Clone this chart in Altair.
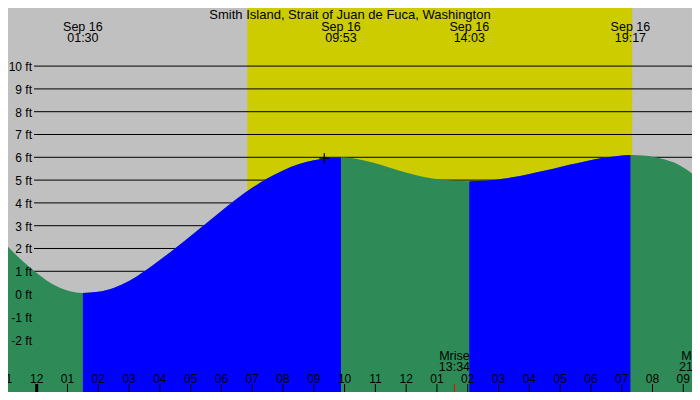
import altair as alt
import pandas as pd

W, H = 684, 384

title_text = "Smith Island, Strait of Juan de Fuca, Washington"

# tide curve (hours after midnight Sep 16, feet)
curve_hours = [-1.19, -0.9, -0.6, -0.3, 0.0, 0.3, 0.6, 0.9, 1.2, 1.5,
               2.0, 2.5, 3.0, 3.5, 4.0, 4.5, 5.0, 5.5, 6.0, 6.5, 7.0, 7.5,
               8.0, 8.5, 9.0, 9.5, 9.883,
               10.4, 10.94, 11.5, 12.02, 12.5, 13.1, 13.6, 14.05,
               14.6, 15.2, 15.7, 16.25, 16.78, 17.3, 17.87, 18.4, 18.95, 19.283,
               19.8, 20.3, 20.7, 21.0, 21.3, 21.55]
curve_ft = [2.42, 2.03, 1.63, 1.26, 0.92, 0.62, 0.38, 0.2, 0.09, 0.05,
            0.10, 0.27, 0.57, 1.00, 1.49, 2.01, 2.55, 3.10, 3.65, 4.18, 4.66, 5.08,
            5.42, 5.69, 5.87, 5.97, 6.0,
            5.93, 5.76, 5.53, 5.32, 5.16, 5.03, 4.97, 4.95,
            4.98, 5.07, 5.18, 5.34, 5.50, 5.67, 5.84, 5.98, 6.07, 6.1,
            6.07, 5.94, 5.77, 5.55, 5.27, 5.0]

# tide events
event_hours = [1.5, 9.883, 14.05, 19.283]
event_kind = ["low", "high", "low", "high"]
event_date = ["Sep 16", "Sep 16", "Sep 16", "Sep 16"]
event_time = ["01:30", "09:53", "14:03", "19:17"]

# daylight
sunrise_h = 6.84
sunset_h = 19.34

# moon
moon_hours = [13.567, 21.37]
moon_names = ["Mrise", "Mset"]
moon_times = ["13:34", "21:22"]

# hour axis
hours = list(range(-1, 22))
hour_labels = ["11", "12", "01", "02", "03", "04", "05", "06", "07", "08", "09", "10", "11",
               "12", "01", "02", "03", "04", "05", "06", "07", "08", "09"]

# feet levels
ft_levels = list(range(-2, 11))
ft_labels = [f"{v} ft" for v in ft_levels]

x_domain = [-0.932, 21.283]
y_domain = [-4.294, 12.548]

GRAY = "#C0C0C0"
YELLOW = "#CCCC00"
GREEN = "#2E8B57"
BLUE = "#0000FF"
FONT = "Liberation Sans"

xs = alt.Scale(domain=x_domain, nice=False, zero=False)
ys = alt.Scale(domain=y_domain, nice=False, zero=False)


def X(f):
    return alt.X(f, type="quantitative", scale=xs, axis=None)


def Y(f):
    return alt.Y(f, type="quantitative", scale=ys, axis=None, stack=None)


# rising segments: low -> next high
rising = []
for i in range(len(event_hours) - 1):
    if event_kind[i] == "low" and event_kind[i + 1] == "high":
        rising.append((event_hours[i], event_hours[i + 1]))

seg = []
for t in curve_hours:
    s = 0
    for k, (a, b) in enumerate(rising):
        if a - 1e-9 <= t <= b + 1e-9:
            s = k + 1
    seg.append(s)

curve_df = pd.DataFrame({"t": curve_hours, "ft": curve_ft, "seg": seg})
sun_df = pd.DataFrame({"start": [sunrise_h], "end": [sunset_h]})
ft_df = pd.DataFrame({"ft": ft_levels, "label": ft_labels})
hour_df = pd.DataFrame({"t": hours, "label": hour_labels})
moon_df = pd.DataFrame({"t": moon_hours, "name": moon_names, "time": moon_times})
ev_df = pd.DataFrame({"t": event_hours, "date": event_date, "time": event_time})
title_df = pd.DataFrame({"title": [title_text]})
cross_df = pd.DataFrame({"t": [9.34], "ft": [5.96]})

sun = alt.Chart(sun_df).mark_rect(color=YELLOW, clip=True).encode(
    x=X("start"), x2="end", y=alt.value(0), y2=alt.value(H))

grid = alt.Chart(ft_df).mark_rule(color="black", strokeWidth=1).encode(
    y=Y("ft"), x=alt.value(26), x2=alt.value(W))

green = alt.Chart(curve_df).mark_area(color=GREEN, interpolate="monotone", clip=True).encode(
    x=X("t"), y=Y("ft"), y2=alt.value(H))

blue_parts = []
for k in range(1, len(rising) + 1):
    blue_parts.append(
        alt.Chart(curve_df).transform_filter(f"datum.seg == {k}").mark_area(
            color=BLUE, interpolate="monotone", clip=True).encode(
            x=X("t"), y=Y("ft"), y2=alt.value(H)))

ft_text = alt.Chart(ft_df).mark_text(align="right", baseline="middle", fontSize=12,
                                     font=FONT, color="black", dy=1).encode(
    y=Y("ft"), x=alt.value(24), text="label")

ticks = alt.Chart(hour_df).mark_rule(color="black", strokeWidth=1).encode(
    x=X("t"), y=alt.value(H - 8), y2=alt.value(H))
midnight = alt.Chart(hour_df).transform_filter("datum.t == 0").mark_rule(
    color="black", strokeWidth=3).encode(x=X("t"), y=alt.value(H - 8), y2=alt.value(H))
hour_text = alt.Chart(hour_df).mark_text(align="center", baseline="alphabetic", fontSize=12,
                                         font=FONT, color="black").encode(
    x=X("t"), y=alt.value(H - 9), text="label")

moon_ticks = alt.Chart(moon_df).mark_rule(color="red", strokeWidth=1).encode(
    x=X("t"), y=alt.value(H - 8), y2=alt.value(H))
moon_name = alt.Chart(moon_df).mark_text(align="center", baseline="alphabetic", fontSize=12.5,
                                         font=FONT, color="black").encode(
    x=X("t"), y=alt.value(H - 32.5), text="name")
moon_time = alt.Chart(moon_df).mark_text(align="center", baseline="alphabetic", fontSize=12.5,
                                         font=FONT, color="black").encode(
    x=X("t"), y=alt.value(H - 21), text="time")

ev_date = alt.Chart(ev_df).mark_text(align="center", baseline="alphabetic", fontSize=12.5,
                                     font=FONT, color="black").encode(
    x=X("t"), y=alt.value(22.5), text="date")
ev_time = alt.Chart(ev_df).mark_text(align="center", baseline="alphabetic", fontSize=12.5,
                                     font=FONT, color="black").encode(
    x=X("t"), y=alt.value(34), text="time")

title = alt.Chart(title_df).mark_text(align="center", baseline="alphabetic", fontSize=13,
                                      font=FONT, color="black").encode(
    x=alt.value(W / 2), y=alt.value(10.5), text="title")

cross = alt.Chart(cross_df).mark_point(shape="M-1,0L1,0M0,-1L0,1", size=100, color="black",
                                       strokeWidth=1.2, filled=False, opacity=1).encode(
    x=X("t"), y=Y("ft"))

chart = alt.layer(
    sun, grid, green, *blue_parts, ft_text, ticks, midnight, moon_ticks, hour_text,
    moon_name, moon_time, ev_date, ev_time, title, cross
).properties(
    width=W, height=H, autosize="none", padding=0, background="white",
).configure_view(stroke=None, fill=GRAY)

chart.save("out.html", embed_options={"renderer": "svg", "actions": False})
